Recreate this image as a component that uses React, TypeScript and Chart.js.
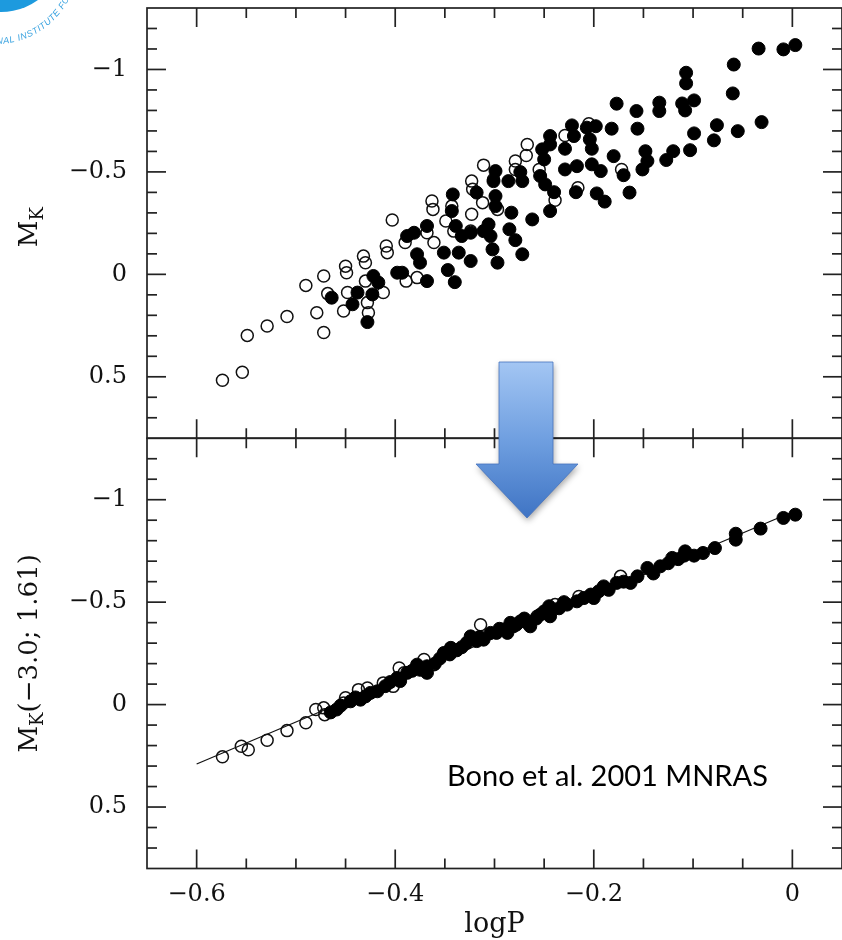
import React, { useEffect, useRef } from "react";
import { Chart, registerables } from "chart.js";
Chart.register(...registerables);

// ---------- data ----------
const xTickValues = [-0.6, -0.4, -0.2, 0];
const yTickValues = [-1, -0.5, 0, 0.5];
const X_MIN = -0.65, X_MAX = 0.05;
const Y_MIN = -1.3, Y_MAX = 0.8;

// top panel: M_K vs logP, open circles
const topOpenX = [-0.574,-0.554,-0.549,-0.529,-0.509,-0.490,-0.472,-0.479,-0.472,-0.468,-0.452,-0.450,-0.449,-0.448,-0.432,-0.430,-0.430,-0.428,-0.427,-0.412,-0.409,-0.408,-0.403,-0.390,-0.389,-0.378,-0.368,-0.363,-0.362,-0.361,-0.349,-0.341,-0.343,-0.323,-0.322,-0.323,-0.312,-0.311,-0.301,-0.324,-0.297,-0.267,-0.268,-0.279,-0.279,-0.255,-0.229,-0.205,-0.172,-0.216,-0.239];
const topOpenY = [0.517,0.478,0.298,0.252,0.206,0.054,0.008,0.187,0.284,0.094,0.179,-0.040,-0.008,0.089,-0.089,-0.057,0.033,0.138,0.187,0.089,-0.138,-0.106,-0.265,-0.155,0.033,0.016,-0.203,-0.358,-0.317,-0.155,-0.260,-0.211,-0.333,-0.455,-0.415,-0.293,-0.350,-0.533,-0.463,-0.211,-0.317,-0.634,-0.580,-0.553,-0.512,-0.512,-0.678,-0.735,-0.512,-0.423,-0.362];

// top panel: filled circles
const topFilledX = [-0.464,-0.443,-0.438,-0.428,-0.423,-0.422,-0.417,-0.398,-0.393,-0.388,-0.381,-0.378,-0.375,-0.368,-0.368,-0.351,-0.347,-0.340,-0.343,-0.342,-0.339,-0.336,-0.333,-0.324,-0.324,-0.318,-0.311,-0.306,-0.304,-0.302,-0.299,-0.301,-0.299,-0.297,-0.299,-0.034,-0.009,0.003,-0.059,-0.107,-0.107,-0.060,-0.177,-0.157,-0.134,-0.134,-0.111,-0.099,-0.108,-0.031,-0.076,-0.055,-0.099,-0.079,-0.103,-0.120,-0.127,-0.148,-0.146,-0.151,-0.156,-0.182,-0.180,-0.170,-0.164,-0.189,-0.197,-0.193,-0.202,-0.217,-0.229,-0.218,-0.222,-0.220,-0.207,-0.198,-0.204,-0.202,-0.229,-0.244,-0.244,-0.252,-0.250,-0.254,-0.249,-0.240,-0.244,-0.262,-0.272,-0.274,-0.286,-0.283,-0.285,-0.279,-0.272];
const topFilledY = [0.114,0.146,0.089,0.233,0.098,0.008,0.040,-0.008,-0.008,-0.187,-0.203,-0.098,-0.057,-0.236,0.033,-0.106,-0.021,0.038,-0.309,-0.390,-0.236,-0.106,-0.187,-0.203,-0.065,-0.399,-0.211,-0.244,-0.187,-0.122,-0.504,-0.455,-0.382,-0.057,-0.333,-1.102,-1.098,-1.119,-1.024,-0.984,-0.932,-0.883,-0.833,-0.797,-0.838,-0.797,-0.834,-0.849,-0.800,-0.743,-0.728,-0.699,-0.688,-0.654,-0.606,-0.601,-0.558,-0.601,-0.553,-0.512,-0.711,-0.711,-0.577,-0.484,-0.399,-0.355,-0.395,-0.504,-0.537,-0.528,-0.512,-0.401,-0.727,-0.675,-0.716,-0.723,-0.659,-0.613,-0.613,-0.675,-0.634,-0.610,-0.561,-0.480,-0.439,-0.401,-0.309,-0.268,-0.455,-0.499,-0.455,-0.301,-0.220,-0.167,-0.098];

// bottom panel: M_K(-3.0; 1.61) vs logP, open circles
const botOpenX = [-0.574,-0.555,-0.548,-0.529,-0.509,-0.490,-0.480,-0.472,-0.471,-0.452,-0.450,-0.437,-0.428,-0.412,-0.402,-0.396,-0.391,-0.371,-0.361,-0.314,-0.257,-0.173,-0.215,-0.239];
const botOpenY = [0.255,0.203,0.220,0.174,0.127,0.089,0.024,0.016,0.049,-0.008,-0.033,-0.073,-0.081,-0.106,-0.089,-0.179,-0.155,-0.220,-0.195,-0.390,-0.431,-0.626,-0.528,-0.488];

// bottom panel: filled circles
const botFilledX = [-0.465,-0.459,-0.445,-0.435,-0.425,-0.418,-0.398,-0.388,-0.378,-0.368,-0.368,-0.351,-0.344,-0.328,-0.324,-0.311,-0.304,-0.291,-0.284,-0.274,-0.264,-0.250,-0.245,0.003,-0.009,-0.032,-0.057,-0.057,-0.078,-0.099,-0.109,-0.108,-0.121,-0.133,-0.146,-0.156,-0.163,-0.177,-0.190,-0.195,-0.203,-0.217,-0.227,-0.244,-0.244,-0.254,-0.267,-0.281,-0.287,
  -0.455,-0.440,-0.430,-0.410,-0.405,-0.395,-0.383,-0.375,-0.360,-0.355,-0.345,-0.338,-0.333,-0.318,-0.315,-0.298,-0.295,-0.278,-0.270,-0.258,-0.235,-0.230,-0.210,-0.200,-0.185,-0.170,-0.140,-0.125,-0.115,-0.090];
const botFilledY = [0.038,0.024,-0.016,-0.024,-0.057,-0.065,-0.130,-0.155,-0.195,-0.187,-0.155,-0.252,-0.277,-0.301,-0.333,-0.317,-0.350,-0.366,-0.399,-0.406,-0.382,-0.455,-0.480,-0.927,-0.911,-0.859,-0.834,-0.805,-0.764,-0.727,-0.727,-0.748,-0.716,-0.675,-0.667,-0.626,-0.594,-0.594,-0.577,-0.553,-0.537,-0.504,-0.488,-0.463,-0.431,-0.439,-0.399,-0.382,-0.350,
  0.005,-0.035,-0.040,-0.090,-0.110,-0.115,-0.165,-0.170,-0.200,-0.225,-0.245,-0.265,-0.280,-0.310,-0.330,-0.350,-0.370,-0.390,-0.420,-0.420,-0.470,-0.500,-0.520,-0.520,-0.560,-0.600,-0.640,-0.690,-0.710,-0.740];

// fitted relation in the bottom panel
const fitX = [-0.6, 0.0];
const fitY = [0.29, -0.94];

const topTitleSuffix = "";
const bottomTitleSuffix = "(\u22123.0; 1.61)";
const xTitle = "logP";
const annotation = "Bono et al. 2001 MNRAS";
const logoText = "NATIONAL INSTITUTE FOR";

// ---------- helpers ----------
const fmt = (v: number) => (v < 0 ? "\u2212" + String(Math.abs(v)) : String(v));
const pts = (xs: number[], ys: number[]) => xs.map((x, i) => ({ x, y: ys[i] }));
const SERIF = '"DejaVu Serif", "Liberation Serif", serif';

const framePlugin = {
  id: "frameTicks",
  afterDatasetsDraw(chart: any) {
    const ctx = chart.ctx as CanvasRenderingContext2D;
    const xs = chart.scales.x;
    const { left, right } = chart.chartArea;
    const MAJ = 19, MIN = 10;
    ctx.save();
    ctx.strokeStyle = "#222";
    ctx.lineWidth = 1.7;
    const seg = (x1: number, y1: number, x2: number, y2: number) => {
      ctx.beginPath(); ctx.moveTo(x1, y1); ctx.lineTo(x2, y2); ctx.stroke();
    };
    for (const ys of [chart.scales.yTop, chart.scales.yBot]) {
      const t = ys.getPixelForValue(Y_MIN);
      const b = ys.getPixelForValue(Y_MAX);
      ctx.strokeRect(left, t, right - left, b - t);
      for (let k = -12; k <= 7; k++) {
        const v = k / 10;
        const major = k % 5 === 0;
        const L = major ? MAJ : MIN;
        const py = ys.getPixelForValue(v);
        seg(left, py, left + L, py);
        seg(right, py, right - L, py);
      }
      for (let k = -12; k <= 0; k++) {
        const v = k * 0.05;
        const major = k % 4 === 0;
        const L = major ? MAJ : MIN;
        const px = xs.getPixelForValue(v);
        seg(px, t, px, t + L);
        seg(px, b, px, b - L);
      }
    }
    ctx.restore();
  },
  afterDraw(chart: any) {
    const ctx = chart.ctx as CanvasRenderingContext2D;
    const yTop = chart.scales.yTop, yBot = chart.scales.yBot, xs = chart.scales.x;
    ctx.save();
    ctx.fillStyle = "#111";
    // y titles with subscript
    const drawTitle = (cy: number, suffix: string) => {
      ctx.save();
      ctx.translate(37, cy);
      ctx.rotate(-Math.PI / 2);
      ctx.font = `26px ${SERIF}`;
      const wM = ctx.measureText("M").width;
      const wS = ctx.measureText(suffix).width;
      ctx.font = `18px ${SERIF}`;
      const wK = ctx.measureText("K").width;
      let cx = -(wM + wK + wS) / 2;
      ctx.textAlign = "left";
      ctx.textBaseline = "alphabetic";
      ctx.font = `26px ${SERIF}`;
      ctx.fillText("M", cx, 0); cx += wM;
      ctx.font = `18px ${SERIF}`;
      ctx.fillText("K", cx, 6); cx += wK;
      ctx.font = `26px ${SERIF}`;
      if (suffix) ctx.fillText(suffix, cx, 0);
      ctx.restore();
    };
    drawTitle((yTop.getPixelForValue(Y_MIN) + yTop.getPixelForValue(Y_MAX)) / 2 + 4, topTitleSuffix);
    drawTitle((yBot.getPixelForValue(Y_MIN) + yBot.getPixelForValue(Y_MAX)) / 2, bottomTitleSuffix);
    // x title
    ctx.font = `27px ${SERIF}`;
    ctx.textAlign = "center";
    ctx.textBaseline = "alphabetic";
    ctx.fillText(xTitle, (xs.left + xs.right) / 2, 932);
    // annotation
    ctx.font = '29px Lato, "Open Sans", sans-serif';
    ctx.textAlign = "left";
    ctx.fillStyle = "#000";
    ctx.fillText(annotation, 447, 786);

    // blue arrow
    ctx.save();
    ctx.beginPath();
    ctx.moveTo(499, 362); ctx.lineTo(553, 362); ctx.lineTo(553, 464);
    ctx.lineTo(578, 464); ctx.lineTo(527, 518); ctx.lineTo(476, 464);
    ctx.lineTo(499, 464); ctx.closePath();
    const g = ctx.createLinearGradient(0, 362, 0, 518);
    g.addColorStop(0, "#a3c6f3");
    g.addColorStop(0.5, "#6f9fe0");
    g.addColorStop(1, "#3f74c4");
    ctx.shadowColor = "rgba(0,0,0,0.35)";
    ctx.shadowBlur = 6;
    ctx.shadowOffsetX = 1;
    ctx.shadowOffsetY = 3;
    ctx.fillStyle = g;
    ctx.fill();
    ctx.shadowColor = "transparent";
    ctx.strokeStyle = "rgba(70,115,190,0.8)";
    ctx.lineWidth = 1;
    ctx.stroke();
    ctx.restore();

    // partial logo (top-left corner)
    ctx.save();
    ctx.fillStyle = "#1d9ade";
    ctx.beginPath();
    ctx.arc(1, -51, 63, 0, Math.PI * 2);
    ctx.fill();
    ctx.fillStyle = "#3aa3e0";
    ctx.font = 'italic 9px "Liberation Sans", Arial, sans-serif';
    const R = 82, cxl = -4, cyl = -38;
    let ang = (111 * Math.PI) / 180;
    for (const ch of logoText) {
      const w = ctx.measureText(ch).width;
      const a = ang - w / 2 / R;
      ctx.save();
      ctx.translate(cxl + R * Math.cos(a), cyl + R * Math.sin(a));
      ctx.rotate(a - Math.PI / 2);
      ctx.textAlign = "center";
      ctx.textBaseline = "alphabetic";
      ctx.fillText(ch, 0, 0);
      ctx.restore();
      ang -= (w + 0.6) / R;
    }
    ctx.restore();

    ctx.restore();
  },
};

export default function App() {
  const ref = useRef<HTMLCanvasElement>(null);
  useEffect(() => {
    const canvas = ref.current!;
    const tickFont = { family: SERIF, size: 24 };
    const yAxis = (stackW: number) => ({
      type: "linear" as const,
      position: "left" as const,
      stack: "panels",
      stackWeight: stackW,
      reverse: true,
      min: Y_MIN,
      max: Y_MAX,
      grid: { display: false, drawTicks: false },
      border: { display: false },
      afterBuildTicks: (s: any) => { s.ticks = yTickValues.map((v) => ({ value: v })); },
      afterFit: (s: any) => {
        s.width = 147;
        s.paddingTop = 0; s.paddingBottom = 0; s.paddingLeft = 0; s.paddingRight = 0;
      },
      ticks: { callback: (v: any) => fmt(Number(v)), font: tickFont, color: "#111", padding: 20 },
    });
    const chart = new Chart(canvas, {
      type: "scatter",
      data: {
        datasets: [
          { type: "line", label: "fit", data: pts(fitX, fitY), yAxisID: "yBot", borderColor: "#111", borderWidth: 1.2, pointRadius: 0, fill: false, order: 5 } as any,
          { label: "top open", data: pts(topOpenX, topOpenY), yAxisID: "yTop", pointRadius: 6, borderWidth: 1.5, borderColor: "#111", backgroundColor: "rgba(0,0,0,0)", order: 4 },
          { label: "top filled", data: pts(topFilledX, topFilledY), yAxisID: "yTop", pointRadius: 6.5, borderWidth: 1, borderColor: "#000", backgroundColor: "#000", order: 3 },
          { label: "bottom open", data: pts(botOpenX, botOpenY), yAxisID: "yBot", pointRadius: 6, borderWidth: 1.5, borderColor: "#111", backgroundColor: "rgba(0,0,0,0)", order: 4 },
          { label: "bottom filled", data: pts(botFilledX, botFilledY), yAxisID: "yBot", pointRadius: 6.5, borderWidth: 1, borderColor: "#000", backgroundColor: "#000", order: 3 },
        ],
      },
      options: {
        responsive: false,
        animation: false,
        layout: { autoPadding: false, padding: { left: 0, right: 0, top: 8, bottom: 0 } },
        plugins: { legend: { display: false }, tooltip: { enabled: false } },
        scales: {
          x: {
            type: "linear",
            min: X_MIN,
            max: X_MAX,
            grid: { display: false, drawTicks: false },
            border: { display: false },
            afterBuildTicks: (s: any) => { s.ticks = xTickValues.map((v) => ({ value: v })); },
            afterFit: (s: any) => {
              s.height = 71.5;
              s.paddingTop = 0; s.paddingBottom = 0; s.paddingLeft = 0; s.paddingRight = 0;
            },
            ticks: { callback: (v: any) => fmt(Number(v)), font: tickFont, color: "#111", padding: 12, maxRotation: 0, autoSkip: false },
          },
          yBot: yAxis(1),
          yTop: yAxis(1),
        },
      },
      plugins: [framePlugin],
    } as any);
    return () => chart.destroy();
  }, []);
  return (
    <div style={{ position: "absolute", left: 0, top: 0, width: 842, height: 940, background: "#fff", overflow: "hidden" }}>
      <canvas ref={ref} width={842} height={940} style={{ display: "block" }} />
    </div>
  );
}
